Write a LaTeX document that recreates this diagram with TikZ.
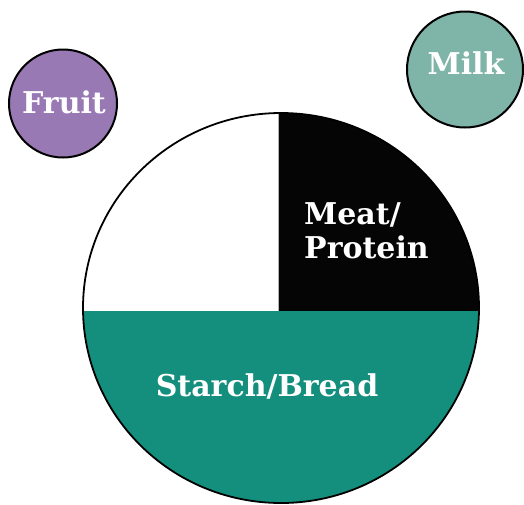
\documentclass[tikz,border=0pt]{standalone}
\usepackage{fontspec}
\setmainfont{DejaVu Serif}
\definecolor{fruitc}{RGB}{152,121,180}
\definecolor{milkc}{RGB}{127,180,168}
\definecolor{starchc}{RGB}{20,143,125}
\definecolor{meatc}{RGB}{5,5,5}
\begin{document}
\begin{tikzpicture}[x=1pt,y=-1pt,
  lbl/.style={text=white,font=\bfseries\fontsize{30}{34}\selectfont},
  group/.style={circle,draw=black,line width=2pt,inner sep=0pt}]
\useasboundingbox (0,0) rectangle (524,504);
\begin{scope}
  \clip (281,308) ellipse [x radius=198pt, y radius=195pt];
  \fill[starchc] (70,311) rectangle (490,520);
  \fill[meatc] (278,100) rectangle (490,311);
\end{scope}
\draw[gray!60, line width=0.6pt] (278,113) -- (278,311);
\draw[line width=1.8pt] (281,308) ellipse [x radius=198pt, y radius=195pt];
\node[group, fill=fruitc, minimum size=108pt] (fruit) at (63,103.5) {};
\node[lbl, anchor=base, inner sep=0pt] (fruitlbl) at (64,113) {Fruit};
\node[group, fill=milkc, minimum size=116pt] (milk) at (465,69.5) {};
\node[lbl, anchor=base, inner sep=0pt] (milklbl) at (466,74) {Milk};
\node[lbl, align=left, anchor=west, inner sep=0pt] (meat) at (304,231) {Meat/\\Protein};
\node[lbl, anchor=base, inner sep=0pt] (starch) at (267,396) {Starch/Bread};
\end{tikzpicture}
\end{document}
